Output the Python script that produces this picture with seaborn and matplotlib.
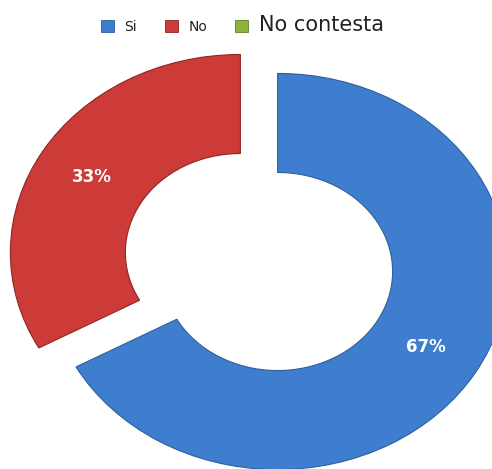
import matplotlib
matplotlib.use("Agg")
import matplotlib.pyplot as plt
from matplotlib.patches import Patch
import seaborn as sns

# === datos ===
categorias = ["Si", "No", "No contesta"]
porcentajes = [67, 33, 0]
colores = ["#3F7ECF", "#CC3B37", "#8DB33E"]
bordes = ["#2C5F9E", "#8E2623", "#5F7F2A"]
separacion = [0.094, 0.094, 0.0]

sns.set_theme(style="white")
plt.rcParams["font.family"] = ["DejaVu Sans"]

fig = plt.figure(figsize=(4.92, 4.69), dpi=100)
ax = fig.add_axes([0, 0, 1, 1])

wedges, _, autotexts = ax.pie(
    porcentajes,
    colors=colores,
    explode=separacion,
    startangle=90,
    counterclock=False,
    radius=1.0,
    autopct=lambda p: f"{p:.0f}%" if p > 0 else "",
    pctdistance=0.75,
    wedgeprops=dict(width=0.5, linewidth=0.8),
    textprops=dict(color="white", fontsize=12, fontweight="bold"),
)
for w, b, v in zip(wedges, bordes, porcentajes):
    w.set_edgecolor(b)
    if v == 0:
        w.set_visible(False)

# el grafico original esta estirado en horizontal
ax.set_aspect("auto")
ax.set_xlim(-1.126, 1.013)
ax.set_ylim(-1.045, 1.323)
ax.axis("off")

# === leyenda ===
handles = [Patch(facecolor=c, edgecolor=b, linewidth=0.6) for c, b in zip(colores, bordes)]
leg = fig.legend(
    handles, categorias,
    loc="center", bbox_to_anchor=(0.492, 0.947), ncol=3, frameon=False,
    handlelength=0.95, handleheight=0.95, handletextpad=0.75, columnspacing=2.0,
    fontsize=10,
)
for t, fs in zip(leg.get_texts(), [10, 10, 15]):
    t.set_fontsize(fs)
    t.set_color("#222222")

fig.savefig("out.png", dpi=100)
